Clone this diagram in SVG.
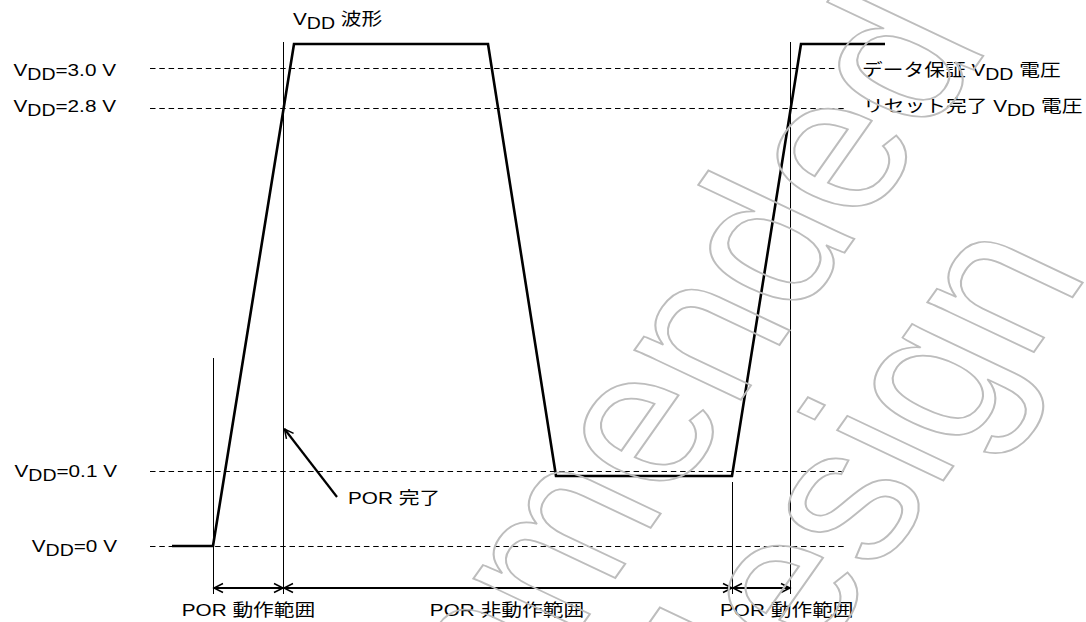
<svg xmlns="http://www.w3.org/2000/svg" width="1086" height="622" viewBox="0 0 1086 622">
<style>
.t{font-family:"Liberation Sans","Noto Sans CJK JP",Arial,sans-serif;font-size:17px;fill:#000}
.sub{font-size:16px}
.dash{stroke:#000;stroke-width:1;stroke-dasharray:5.5 3.8;fill:none}
.thin{stroke:#000;stroke-width:1;fill:none}
.wave{stroke:#000;stroke-width:2.6;fill:none;stroke-linejoin:miter}
.arr{stroke:#000;stroke-width:2.2;fill:none;marker-start:url(#ah);marker-end:url(#ah)}
.wm{font-family:"Liberation Sans",Arial,sans-serif;font-size:190px;fill:none;stroke:#bdbdbd;stroke-width:1.7}
</style>
<defs>
<marker id="ah" viewBox="-11 -7 13 14" refX="0" refY="0" markerWidth="13" markerHeight="14" markerUnits="userSpaceOnUse" orient="auto-start-reverse">
<path d="M-9,-4.5 L0,0 L-9,4.5" fill="none" stroke="#000" stroke-width="1.5"/>
</marker>
</defs>
<rect width="1086" height="622" fill="#fff"/>

<g id="levels">
<line class="dash" x1="150" y1="68.5" x2="837" y2="68.5"/>
<line class="dash" x1="150" y1="108.5" x2="845" y2="108.5"/>
<line class="dash" x1="150" y1="471.5" x2="845" y2="471.5"/>
<line class="dash" x1="150" y1="546.5" x2="845" y2="546.5"/>
</g>

<g id="markers">
<line class="thin" x1="213.5" y1="358" x2="213.5" y2="594"/>
<line class="thin" x1="283.5" y1="42" x2="283.5" y2="594"/>
<line class="thin" x1="732.5" y1="482" x2="732.5" y2="594"/>
<line class="thin" x1="790.5" y1="42" x2="790.5" y2="594"/>
</g>

<g id="waveform">
<path class="wave" d="M172,546 L213,546 L294,44 L488,44 L556,476 L732,476 L801,44 L885,44"/>
</g>

<g id="connectors">
<line class="arr" x1="214" y1="588" x2="283" y2="588"/>
<line class="arr" x1="284" y1="588" x2="732" y2="588"/>
<line class="arr" x1="733" y1="588" x2="790" y2="588"/>
<line x1="337" y1="497" x2="284.5" y2="429" stroke="#000" stroke-width="2.2" marker-end="url(#ah)"/>
</g>

<g id="labels">
<text class="t" text-anchor="end" transform="translate(116,76) scale(1.22,1)">V<tspan class="sub" dy="4">DD</tspan><tspan dy="-4">=3.0 V</tspan></text>
<text class="t" text-anchor="end" transform="translate(116,112) scale(1.22,1)">V<tspan class="sub" dy="4">DD</tspan><tspan dy="-4">=2.8 V</tspan></text>
<text class="t" text-anchor="end" transform="translate(117,477) scale(1.22,1)">V<tspan class="sub" dy="4">DD</tspan><tspan dy="-4">=0.1 V</tspan></text>
<text class="t" text-anchor="end" transform="translate(117,552) scale(1.22,1)">V<tspan class="sub" dy="4">DD</tspan><tspan dy="-4">=0 V</tspan></text>
<text class="t" transform="translate(293,25) scale(1.22,1)">V<tspan class="sub" dy="4">DD</tspan><tspan dy="-4"> 波形</tspan></text>
<text class="t" transform="translate(862,76) scale(1.22,1)">データ保証 V<tspan class="sub" dy="4">DD</tspan><tspan dy="-4"> 電圧</tspan></text>
<text class="t" transform="translate(863,112) scale(1.22,1)">リセット完了 V<tspan class="sub" dy="4">DD</tspan><tspan dy="-4"> 電圧</tspan></text>
<text class="t" transform="translate(348,504) scale(1.22,1)">POR 完了</text>
<text class="t" text-anchor="middle" transform="translate(248.5,616) scale(1.22,1)">POR 動作範囲</text>
<text class="t" text-anchor="middle" transform="translate(507,616) scale(1.22,1)">POR 非動作範囲</text>
<text class="t" transform="translate(720,616) scale(1.22,1)">POR 動作範囲</text>
</g>

<g id="watermark" transform="translate(514,722) scale(1.22,1) rotate(-60)">
<text class="wm" text-anchor="middle" x="0" y="0">Not recommended</text>
<text class="wm" text-anchor="middle" x="8" y="184">for new design</text>
</g>
</svg>
